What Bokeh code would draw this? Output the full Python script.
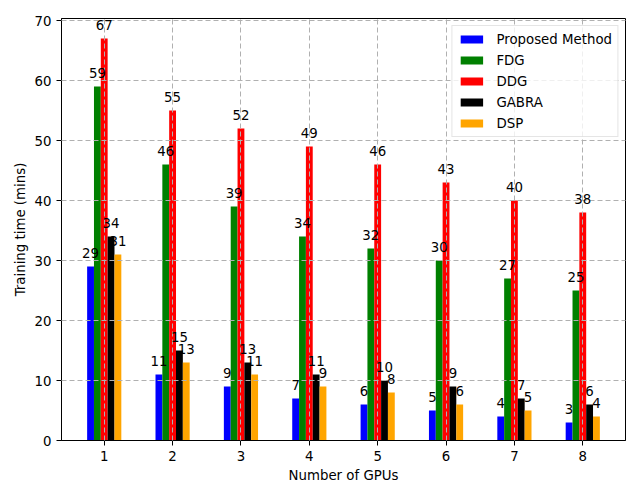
import numpy as np
from bokeh.plotting import figure
from bokeh.models import ColumnDataSource, Range1d, LabelSet, FixedTicker
from bokeh.core.properties import value
from bokeh.embed import file_html
from bokeh.resources import INLINE

gpus = [1, 2, 3, 4, 5, 6, 7, 8]
series_names = ["Proposed Method", "FDG", "DDG", "GABRA", "DSP"]
proposed = [29, 11, 9, 7, 6, 5, 4, 3]
fdg = [59, 46, 39, 34, 32, 30, 27, 25]
ddg = [67, 55, 52, 49, 46, 43, 40, 38]
gabra = [34, 15, 13, 11, 10, 9, 7, 6]
dsp = [31, 13, 11, 9, 8, 6, 5, 4]
y_ticks = [0, 10, 20, 30, 40, 50, 60, 70]

all_series = [proposed, fdg, ddg, gabra, dsp]
colors = ["blue", "green", "red", "black", "orange"]
bar_w = 0.1
offsets = [-0.2, -0.1, 0.0, 0.1, 0.2]

FONT = "DejaVu Sans"
FS = "13.33px"

p = figure(width=631, height=492, output_backend="svg", toolbar_location=None,
           x_range=Range1d(0.375, 8.625), y_range=Range1d(0, 70.35),
           min_border_left=61, min_border_right=6, min_border_top=18, min_border_bottom=52)
p.background_fill_color = "white"
p.border_fill_color = "white"
p.outline_line_color = "black"
p.outline_line_width = 1

for name, vals, col, off in zip(series_names, all_series, colors, offsets):
    src = ColumnDataSource(dict(x=np.array(gpus, dtype=float) + off, top=vals))
    p.vbar(x="x", top="top", width=bar_w, bottom=0, source=src, fill_color=col,
           line_color=None, legend_label=name)

for name, vals, col, off in zip(series_names, all_series, colors, offsets):
    src = ColumnDataSource(dict(x=np.array(gpus, dtype=float) + off, top=vals,
                                label=[str(v) for v in vals]))
    ls = LabelSet(x="x", y="top", text="label", source=src, text_align="center",
                  text_baseline="alphabetic", y_offset=9, text_font=value(FONT),
                  text_font_size=value(FS), text_color="black")
    p.add_layout(ls)

for ax in (p.xaxis, p.yaxis):
    ax.major_label_text_font = FONT
    ax.major_label_text_font_size = FS
    ax.major_label_text_color = "black"
    ax.axis_label_text_font = FONT
    ax.axis_label_text_font_size = FS
    ax.axis_label_text_font_style = "normal"
    ax.axis_label_text_color = "black"
    ax.minor_tick_line_color = None
    ax.major_tick_out = 5
    ax.major_tick_in = 0
    ax.axis_line_color = "black"
    ax.major_tick_line_color = "black"

p.xaxis.ticker = FixedTicker(ticks=gpus)
p.yaxis.ticker = FixedTicker(ticks=y_ticks)
p.xaxis.axis_label = "Number of GPUs"
p.yaxis.axis_label = "Training time (mins)"
p.xaxis.axis_label_standoff = 4
p.yaxis.axis_label_standoff = 4

for g in (p.xgrid, p.ygrid):
    g.grid_line_color = "#b0b0b0"
    g.grid_line_dash = "5 3"
    g.grid_line_width = 1
    g.level = "guide"

lg = p.legend[0]
lg.location = "top_right"
lg.margin = 7
lg.padding = 5
lg.spacing = 5
lg.glyph_width = 28
lg.glyph_height = 10
lg.label_height = 16
lg.label_standoff = 11
lg.label_text_font = FONT
lg.label_text_font_size = FS
lg.label_text_color = "black"
lg.border_line_color = "#cccccc"
lg.border_line_width = 1
lg.background_fill_color = "white"
lg.background_fill_alpha = 0.8

open("out.html", "w").write(file_html(p, INLINE))
